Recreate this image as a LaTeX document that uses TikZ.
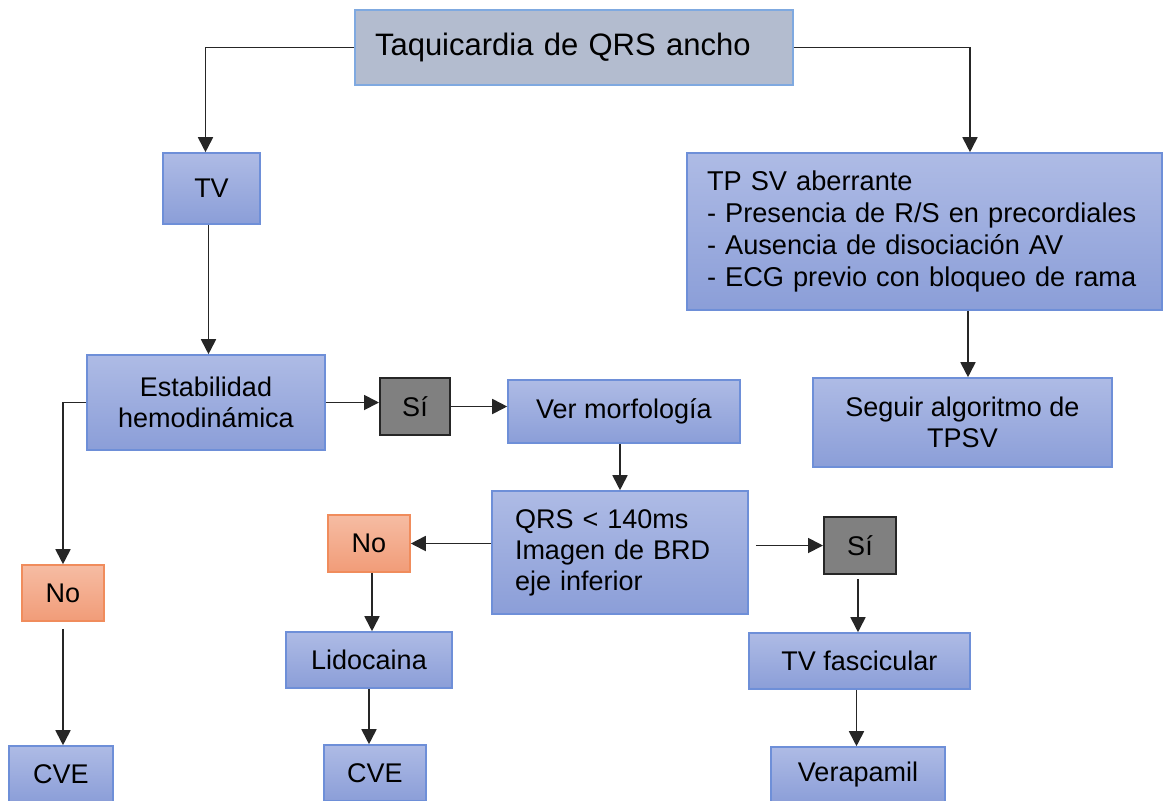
\documentclass[tikz,border=0pt]{standalone}
\usepackage{fontspec}
\setmainfont{Liberation Sans}
\usetikzlibrary{arrows.meta,calc}
\definecolor{bluetop}{HTML}{AEBBE5}
\definecolor{bluebot}{HTML}{8B9ED8}
\definecolor{blueedge}{HTML}{6E8FD8}
\definecolor{graytop}{HTML}{B3BCCF}
\definecolor{grayedge}{HTML}{7FA9E0}
\definecolor{orgtop}{HTML}{F6BCA3}
\definecolor{orgbot}{HTML}{F19C78}
\definecolor{orgedge}{HTML}{F08C5C}
\definecolor{sifill}{HTML}{808080}
\tikzset{
  base/.style={draw, line width=0.8pt, inner sep=0pt, font=\fontsize{13.5}{15.5}\selectfont, align=center},
  bluebox/.style={base, draw=blueedge, top color=bluetop, bottom color=bluebot},
  orgbox/.style={base, draw=orgedge, top color=orgtop, bottom color=orgbot},
  sibox/.style={base, draw=black!85, line width=1pt, fill=sifill},
  topbox/.style={base, draw=grayedge, fill=graytop},
  arr/.style={line width=0.9pt, draw=black!85, -{Triangle[width=7.5pt,length=7.5pt]}}
}
\begin{document}
\begin{tikzpicture}[x=0.5pt,y=-0.5pt]
\useasboundingbox (0,0) rectangle (1164,800);
% nodes
\node[topbox, minimum width=219pt, minimum height=37.5pt, text width=199pt, align=left, inner xsep=10pt, font=\fontsize{15.5}{18}\selectfont] (top) at (574,47.5) {Taquicardia de QRS ancho};
\node[bluebox, minimum width=48.5pt, minimum height=35.5pt] (tv) at (211.5,188.5) {TV};
\node[bluebox, minimum width=237.5pt, minimum height=78.5pt, text width=217.5pt, align=left, inner xsep=10pt, font=\fontsize{13.6}{16}\selectfont] (right) at (924.5,231.5) {TP SV aberrante\\- Presencia de R/S en precordiales\\- Ausencia de disociación AV\\- ECG previo con bloqueo de rama};
\node[bluebox, minimum width=119pt, minimum height=47.5pt] (estab) at (206,402.5) {Estabilidad\\hemodinámica};
\node[sibox, minimum width=35pt, minimum height=28.5pt] (si1) at (415,406.5) {Sí};
\node[bluebox, minimum width=116pt, minimum height=31.5pt] (ver) at (624,411.5) {Ver morfología};
\node[bluebox, minimum width=149.5pt, minimum height=44.5pt] (seguir) at (962.5,422.5) {Seguir algoritmo de\\TPSV};
\node[bluebox, minimum width=128pt, minimum height=61.5pt, text width=105pt, align=left, inner xsep=11.5pt] (qrs) at (620,552.5) {QRS < 140ms\\Imagen de BRD\\eje inferior};
\node[orgbox, minimum width=41pt, minimum height=28.5pt] (no1) at (369,543.5) {No};
\node[sibox, minimum width=36pt, minimum height=28.5pt] (si2) at (860,545.5) {Sí};
\node[orgbox, minimum width=41pt, minimum height=28pt] (noL) at (63,593) {No};
\node[bluebox, minimum width=83pt, minimum height=28pt] (lido) at (369,660) {Lidocaina};
\node[bluebox, minimum width=110.5pt, minimum height=28pt] (tvf) at (859.5,661) {TV fascicular};
\node[bluebox, minimum width=52pt, minimum height=28pt] (cveL) at (61,774) {CVE};
\node[bluebox, minimum width=51pt, minimum height=28pt] (cveM) at (375,773) {CVE};
\node[bluebox, minimum width=87pt, minimum height=28pt] (vera) at (858,775) {Verapamil};
% connectors
\draw[arr] (top.west) -| ($(tv.north)+(-6,0)$);
\draw[arr] (top.east) -| ($(right.north)+(45.5,0)$);
\draw[arr] ($(tv.south)+(-3,0)$) -- ($(tv.south |- estab.north)+(-3,0)$);
\draw[arr] ($(seguir.north |- right.south)+(5.5,0)$) -- ($(seguir.north)+(5.5,0)$);
\draw[arr] (estab.east) -- (estab.east -| si1.west);
\draw[arr] (si1.east) -- (si1.east -| ver.west);
\draw[arr] ($(qrs.north |- ver.south)$) -- (qrs.north);
\draw[arr] (estab.west) -| (noL.north);
\draw[arr] ($(noL.south)+(0,7)$) -- (noL.south |- cveL.north);
\draw[arr] (no1.east -| qrs.west) -- (no1.east);
\draw[arr] ($(si2.west -| qrs.east)+(7,0)$) -- (si2.west);
\draw[arr] ($(si2.south)+(-2,4)$) -- ($(si2.south |- tvf.north)+(-2,0)$);
\draw[arr] ($(no1.south)+(3,0)$) -- ($(no1.south |- lido.north)+(3,0)$);
\draw[arr] (lido.south) -- (lido.south |- cveM.north);
\draw[arr] ($(tvf.south)+(-3,0)$) -- ($(tvf.south |- vera.north)+(-3,0)$);
\end{tikzpicture}
\end{document}
